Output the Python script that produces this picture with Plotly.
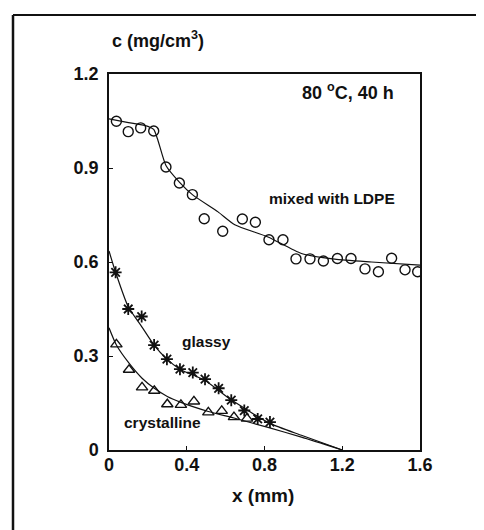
import plotly.graph_objects as go

# ---- data ----
mixed_x = [0.038, 0.099, 0.163, 0.230, 0.293, 0.362, 0.429, 0.490, 0.585, 0.686, 0.753,
           0.823, 0.895, 0.962, 1.034, 1.103, 1.175, 1.245, 1.317, 1.386, 1.454, 1.523, 1.588]
mixed_y = [1.049, 1.016, 1.028, 1.018, 0.903, 0.852, 0.815, 0.738, 0.698, 0.737, 0.727,
           0.671, 0.671, 0.610, 0.610, 0.603, 0.611, 0.611, 0.578, 0.569, 0.612, 0.575, 0.569]
mixed_fit_x = [0.0, 0.10, 0.20, 0.23, 0.252, 0.293, 0.362, 0.429, 0.561, 0.647, 0.818,
               0.99, 1.161, 1.35, 1.6]
mixed_fit_y = [1.057, 1.045, 1.033, 1.023, 0.988, 0.908, 0.855, 0.815, 0.760, 0.719, 0.680,
               0.627, 0.609, 0.600, 0.590]

glassy_x = [0.034, 0.099, 0.168, 0.232, 0.298, 0.365, 0.431, 0.494, 0.564, 0.629, 0.696, 0.765, 0.828]
glassy_y = [0.567, 0.450, 0.426, 0.335, 0.290, 0.258, 0.247, 0.226, 0.197, 0.159, 0.126, 0.099, 0.089]
glassy_fit_x = [0.0, 0.034, 0.099, 0.168, 0.232, 0.298, 0.365, 0.494, 0.629, 0.828, 0.99, 1.2]
glassy_fit_y = [0.635, 0.567, 0.457, 0.394, 0.335, 0.290, 0.258, 0.222, 0.160, 0.085, 0.047, 0.0]

cryst_x = [0.038, 0.103, 0.170, 0.233, 0.300, 0.370, 0.437, 0.511, 0.580, 0.643, 0.710]
cryst_y = [0.337, 0.256, 0.200, 0.189, 0.146, 0.144, 0.155, 0.120, 0.125, 0.105, 0.100]
cryst_fit_x = [0.0, 0.038, 0.103, 0.170, 0.233, 0.300, 0.370, 0.511, 0.643, 0.818, 0.99, 1.2]
cryst_fit_y = [0.390, 0.335, 0.277, 0.229, 0.197, 0.171, 0.152, 0.123, 0.102, 0.072, 0.041, 0.0]

x_ticks = [0, 0.4, 0.8, 1.2, 1.6]
x_tick_text = ["0", "0.4", "0.8", "1.2", "1.6"]
y_ticks = [0, 0.3, 0.6, 0.9, 1.2]
y_tick_text = ["0", "0.3", "0.6", "0.9", "1.2"]

# ---- layout geometry (pixels) ----
W, H = 484, 530
L, R, T, B = 101, 412, 66, 442
FONT = "Liberation Sans"
INK = "#111111"


def px(xp):
    return (xp - L) / (R - L)


def py(yp):
    return (B - yp) / (B - T)


fig = go.Figure()
line_style = dict(color=INK, width=1.2)
fig.add_trace(go.Scatter(x=mixed_fit_x, y=mixed_fit_y, mode="lines", line=dict(**line_style, shape="spline", smoothing=0.6)))
fig.add_trace(go.Scatter(x=glassy_fit_x, y=glassy_fit_y, mode="lines", line=dict(**line_style, shape="spline", smoothing=0.6)))
fig.add_trace(go.Scatter(x=cryst_fit_x, y=cryst_fit_y, mode="lines", line=dict(**line_style, shape="spline", smoothing=0.6)))

fig.add_trace(go.Scatter(x=mixed_x, y=mixed_y, mode="markers",
                         marker=dict(symbol="circle-open", size=10, color=INK, line=dict(width=1.4, color=INK))))
fig.add_trace(go.Scatter(x=glassy_x, y=glassy_y, mode="markers",
                         marker=dict(symbol="asterisk-open", size=10, color=INK, line=dict(width=1.8, color=INK))))
fig.add_trace(go.Scatter(x=cryst_x, y=cryst_y, mode="markers",
                         marker=dict(symbol="triangle-up-open", size=10, color=INK, line=dict(width=1.4, color=INK))))

tickfont = dict(family=FONT, size=18, color=INK, weight="bold")
axis_common = dict(showgrid=False, zeroline=False, showline=True, linecolor=INK, linewidth=1.5,
                   mirror=True, ticks="inside", ticklen=4, tickcolor=INK, tickfont=tickfont)
fig.update_xaxes(range=[0, 1.6], tickvals=x_ticks, ticktext=x_tick_text, ticklabelstandoff=-2, **axis_common)
fig.update_yaxes(range=[0, 1.2], tickvals=y_ticks, ticktext=y_tick_text, ticklabelstandoff=5, **axis_common)

afont = dict(family=FONT, size=15.5, color=INK, weight="bold")
annotations = [
    dict(text="c (mg/cm<sup>3</sup>)", x=px(102), y=py(31), xanchor="left", yanchor="middle",
         font=dict(family=FONT, size=18, color=INK, weight="bold")),
    dict(text="80 <sup>o</sup>C, 40 h", x=px(340), y=py(83), xanchor="center", yanchor="middle",
         font=dict(family=FONT, size=18, color=INK, weight="bold")),
    dict(text="mixed with LDPE", x=px(324), y=py(190), xanchor="center", yanchor="middle", font=afont),
    dict(text="glassy", x=px(198), y=py(333), xanchor="center", yanchor="middle", font=afont),
    dict(text="crystalline", x=px(154), y=py(414), xanchor="center", yanchor="middle", font=afont),
    dict(text="x (mm)", x=px(255), y=py(487), xanchor="center", yanchor="middle",
         font=dict(family=FONT, size=19, color=INK, weight="bold")),
]
for a in annotations:
    a.update(xref="paper", yref="paper", showarrow=False)

shapes = [
    dict(type="line", xref="paper", yref="paper", x0=px(5), x1=px(484), y0=py(7), y1=py(7),
         line=dict(color=INK, width=2)),
    dict(type="line", xref="paper", yref="paper", x0=px(5), x1=px(5), y0=py(7), y1=py(530),
         line=dict(color=INK, width=2.5)),
]

fig.update_layout(width=W, height=H, autosize=False, showlegend=False,
                  margin=dict(l=L, r=W - R, t=T, b=H - B, pad=0),
                  paper_bgcolor="white", plot_bgcolor="white",
                  annotations=annotations, shapes=shapes)

fig.write_html("out.html")
